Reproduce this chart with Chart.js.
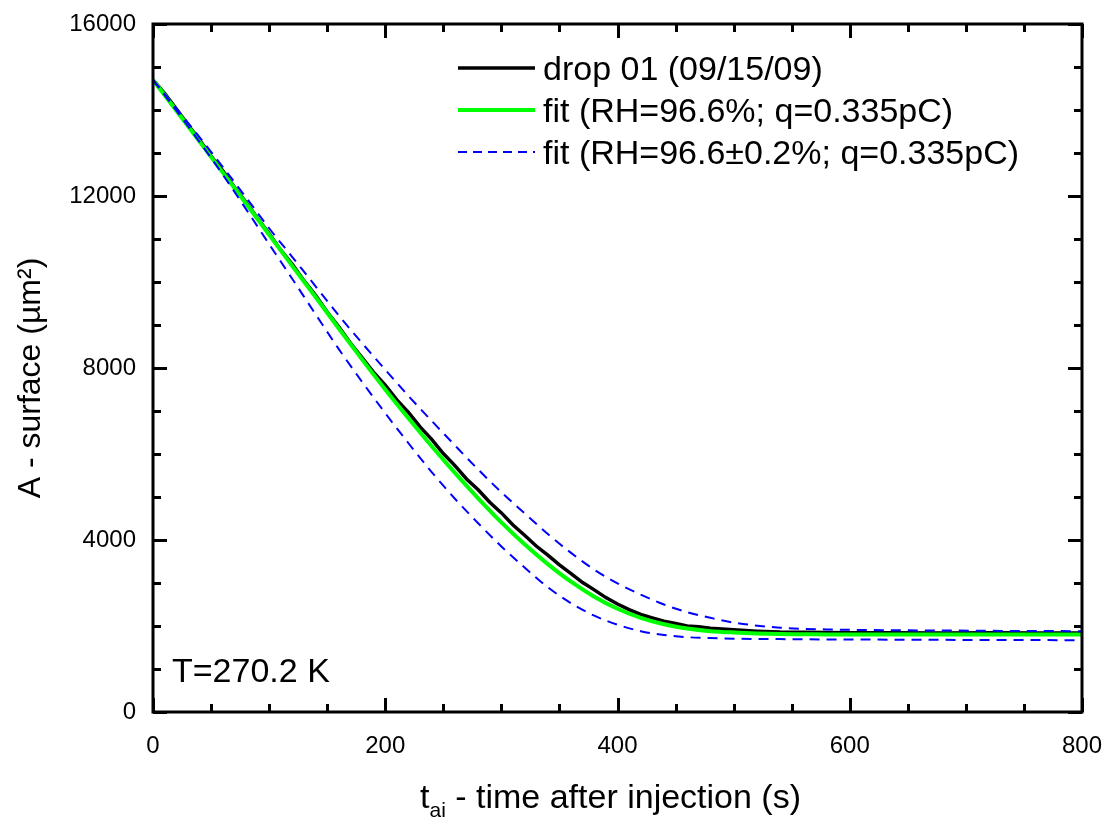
<!DOCTYPE html>
<html>
<head>
<meta charset="utf-8">
<script src="https://cdn.jsdelivr.net/npm/chart.js@4.4.0/dist/chart.umd.min.js"></script>
<style>
    html, body { margin: 0; padding: 0; background: #fff; }
    #myChart { display: block; }
</style>
</head>
<body>
<canvas id="myChart" width="1106" height="826"></canvas>
<script>
// measured drop (every 10 s, then sparser on the plateau)
const timeDrop = [0, 10, 20, 30, 40, 50, 60, 70, 80, 90, 100, 110, 120, 130, 140, 150, 160, 170, 180, 190,
    200, 210, 220, 230, 240, 250, 260, 270, 280, 290, 300, 310, 320, 330, 340, 350, 360, 370, 380, 390,
    400, 410, 420, 430, 440, 450, 460, 470, 480, 490, 500, 520, 540, 560, 580, 600, 640, 680, 720, 760, 800]
const areaDrop = [14700, 14390, 14030, 13660, 13310, 12930, 12590, 12210, 11860, 11480, 11130, 10740, 10410, 10030, 9690, 9300, 8960, 8580, 8240, 7900,
    7600, 7260, 6970, 6630, 6340, 6010, 5730, 5420, 5170, 4880, 4630, 4350, 4110, 3860, 3650, 3420, 3220, 3010, 2840, 2660,
    2510, 2380, 2270, 2190, 2110, 2060, 2000, 1980, 1950, 1930, 1910, 1880, 1860, 1855, 1850, 1845, 1845, 1840, 1845, 1840, 1840]

// fits
const timeFit = [0, 20, 40, 60, 80, 100, 120, 140, 160, 180, 200, 220, 240, 260, 280, 300, 320, 340, 360, 380,
    400, 420, 440, 460, 480, 500, 540, 580, 620, 680, 740, 800]
const areaFit = [14700, 13990, 13270, 12550, 11830, 11100, 10370, 9650, 8920, 8200, 7500, 6830, 6180, 5560, 4970, 4410, 3900, 3440, 3030, 2680,
    2400, 2190, 2040, 1940, 1880, 1850, 1815, 1805, 1800, 1800, 1800, 1800]
const areaFitHigh = [14700, 14040, 13370, 12680, 11970, 11250, 10580, 9900, 9220, 8580, 7960, 7350, 6770, 6200, 5640, 5110, 4620, 4140, 3700, 3310,
    2990, 2730, 2500, 2320, 2190, 2080, 1960, 1920, 1905, 1895, 1885, 1880]
const areaFitLow = [14700, 13990, 13260, 12500, 11700, 10880, 10070, 9250, 8440, 7680, 6950, 6250, 5580, 4960, 4390, 3850, 3360, 2900, 2530, 2240,
    2030, 1880, 1790, 1740, 1720, 1705, 1695, 1688, 1684, 1678, 1674, 1670]

const xTicks = [0, 200, 400, 600, 800]
const yTicks = [0, 4000, 8000, 12000, 16000]

const FONT = '"Liberation Sans", Arial, sans-serif'

const toPoints = (xs, ys) => xs.map((x, i) => ({ x: x, y: ys[i] }))

const dataConfig = {
    datasets: [
        {
            label: 'drop 01 (09/15/09)',
            data: toPoints(timeDrop, areaDrop),
            borderColor: '#000000',
            borderWidth: 3.5,
            tension: 0,
            order: 2
        },
        {
            label: 'fit (RH=96.6%; q=0.335pC)',
            data: toPoints(timeFit, areaFit),
            borderColor: '#00ff00',
            borderWidth: 4,
            cubicInterpolationMode: 'monotone',
            order: 1
        },
        {
            label: 'fit (RH=96.6\u00b10.2%; q=0.335pC)',
            data: toPoints(timeFit, areaFitHigh),
            borderColor: '#0000ff',
            borderWidth: 2,
            borderDash: [10, 7],
            cubicInterpolationMode: 'monotone',
            order: 0
        },
        {
            label: '',
            inLegend: false,
            data: toPoints(timeFit, areaFitLow),
            borderColor: '#0000ff',
            borderWidth: 2,
            borderDash: [10, 7],
            cubicInterpolationMode: 'monotone',
            order: 0
        }
    ]
}

// frame, inward ticks on all sides, legend, notes and axis titles
const decorations = {
    id: 'decorations',
    afterDraw(chart) {
        const ctx = chart.ctx
        const a = chart.chartArea
        const xs = chart.scales.x
        const ys = chart.scales.y
        ctx.save()
        ctx.strokeStyle = '#000'
        ctx.lineWidth = 3
        ctx.lineCap = 'butt'

        // ticks
        ctx.beginPath()
        for (let v = 0; v <= 800; v += 50) {
            const p = Math.round(xs.getPixelForValue(v)) + 0.5
            const len = v % 200 === 0 ? 14 : 8
            ctx.moveTo(p, a.bottom); ctx.lineTo(p, a.bottom - len)
            ctx.moveTo(p, a.top); ctx.lineTo(p, a.top + len)
        }
        for (let v = 0; v <= 16000; v += 1000) {
            const p = Math.round(ys.getPixelForValue(v)) + 0.5
            const len = v % 4000 === 0 ? 14 : 8
            ctx.moveTo(a.left, p); ctx.lineTo(a.left + len, p)
            ctx.moveTo(a.right, p); ctx.lineTo(a.right - len, p)
        }
        ctx.stroke()

        // frame
        ctx.strokeRect(a.left, a.top, a.right - a.left, a.bottom - a.top)

        // legend
        ctx.font = '34px ' + FONT
        ctx.fillStyle = '#000'
        ctx.textBaseline = 'alphabetic'
        const rows = chart.data.datasets.filter((d) => d.inLegend !== false)
        rows.forEach((d, i) => {
            const y = 68 + i * 42
            ctx.beginPath()
            ctx.strokeStyle = d.borderColor
            ctx.lineWidth = d.borderWidth
            ctx.setLineDash(d.borderDash ? [9, 6] : [])
            ctx.moveTo(458, y)
            ctx.lineTo(535, y)
            ctx.stroke()
            ctx.setLineDash([])
            ctx.fillText(d.label, 543, y + 12)
        })

        // temperature note
        ctx.fillText('T=270.2 K', 172, 682)

        // x title with subscript
        let x = 420
        const yb = 808
        ctx.font = '34px ' + FONT
        ctx.fillText('t', x, yb)
        x += ctx.measureText('t').width
        ctx.font = '21px ' + FONT
        ctx.fillText('ai', x, yb + 9)
        x += ctx.measureText('ai').width
        ctx.font = '34px ' + FONT
        ctx.fillText(' - time after injection (s)', x, yb)

        // y title
        ctx.font = '32px ' + FONT
        ctx.translate(40, 378)
        ctx.rotate(-Math.PI / 2)
        ctx.textAlign = 'center'
        ctx.fillText('A - surface (\u00b5m\u00b2)', 0, 0)
        ctx.restore()
    }
}

const plainLabel = (v) => String(v)

const config = {
    type: 'line',
    data: dataConfig,
    options: {
        responsive: false,
        animation: false,
        elements: { point: { radius: 0 } },
        layout: { padding: { top: 24, right: 24, left: 0, bottom: 0 } },
        plugins: {
            legend: { display: false },
            tooltip: { enabled: false }
        },
        scales: {
            x: {
                type: 'linear',
                min: 0,
                max: 800,
                afterBuildTicks: (s) => { s.ticks = xTicks.map((v) => ({ value: v })) },
                ticks: { color: '#000', font: { size: 24, family: FONT }, padding: 20, maxRotation: 0, callback: plainLabel },
                grid: { display: false, drawTicks: false },
                border: { display: false },
                afterFit: (s) => { s.height = 114; s.paddingLeft = 0; s.paddingRight = 0 }
            },
            y: {
                type: 'linear',
                min: 0,
                max: 16000,
                afterBuildTicks: (s) => { s.ticks = yTicks.map((v) => ({ value: v })) },
                ticks: { color: '#000', font: { size: 24, family: FONT }, padding: 17, callback: plainLabel },
                grid: { display: false, drawTicks: false },
                border: { display: false },
                afterFit: (s) => { s.width = 153; s.paddingTop = 0; s.paddingBottom = 0 }
            }
        }
    },
    plugins: [decorations]
}

const chart = new Chart(
    document.querySelector('#myChart'),
    config
)
</script>
</body>
</html>
